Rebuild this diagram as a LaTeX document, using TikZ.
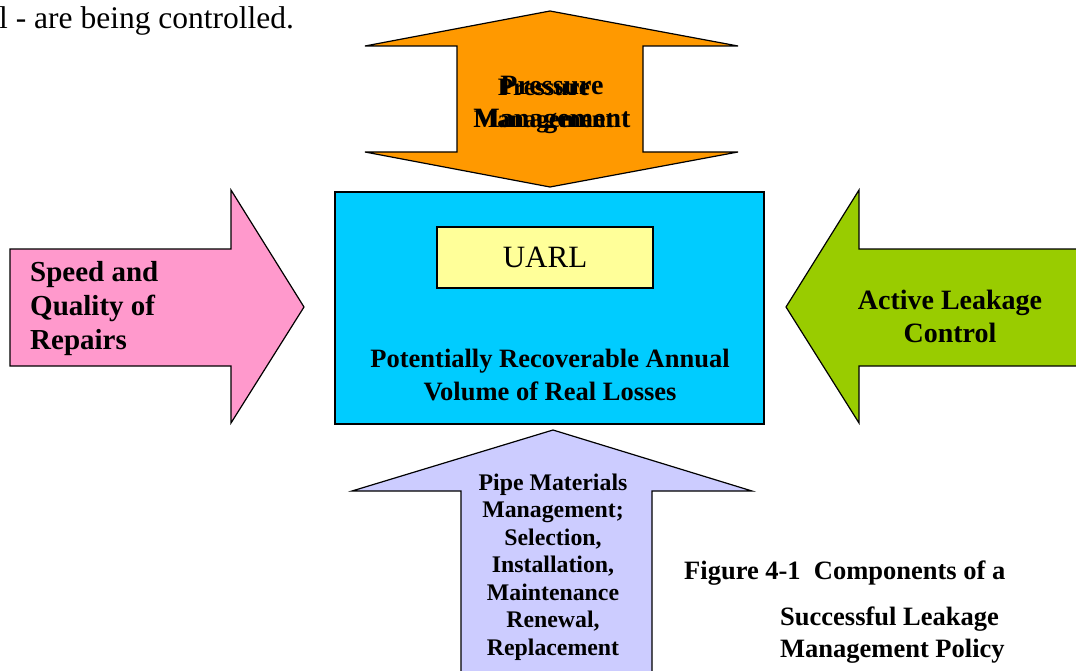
\documentclass[tikz,border=0pt]{standalone}
\usepackage{fontspec}
\setmainfont{Liberation Serif}
\definecolor{laranja}{HTML}{FF9900}
\definecolor{ciano}{HTML}{00CCFF}
\definecolor{amarelo}{HTML}{FFFF99}
\definecolor{rosa}{HTML}{FF99CC}
\definecolor{verde}{HTML}{99CC00}
\definecolor{lilas}{HTML}{CCCCFF}
\begin{document}
\begin{tikzpicture}[x=1pt, y=-1pt, %unidades em pontos, eixo y para baixo
	seta/.style={draw=black, line width=1.2pt, line join=miter},
	rotulo/.style={font=\bfseries\fontsize{28}{33}\selectfont, align=center, inner sep=0pt}]
	\clip (0,0) rectangle (1076,671); %Limites do desenho
	
	%Texto de cima
	\node[anchor=base west, inner sep=0pt, font=\fontsize{31.5}{36}\selectfont] (frase) at (-1,29) {l - are being controlled.};
	
	%Seta dupla de cima
	\filldraw[seta, fill=laranja] (550,11) -- (738,46) -- (643,46) -- (643,152) -- (738,152) -- (550,187)
		-- (365,152) -- (457,152) -- (457,46) -- (365,46) -- cycle;
	\node[rotulo, font=\bfseries\fontsize{25}{32}\selectfont] (pressaoa) at (544,106) {Pressure\\Management};
	\node[rotulo] (pressaob) at (552,105) {Pressure\\Management};
	
	%Caixa central
	\filldraw[seta, fill=ciano] (335,192) rectangle (764,424);
	\node[draw=black, line width=1.2pt, fill=amarelo, minimum width=216pt, minimum height=61pt, inner sep=0pt,
		font=\fontsize{31}{36}\selectfont] (uarl) at (545,257.5) {UARL};
	\node[rotulo, font=\bfseries\fontsize{26.5}{33}\selectfont] (perdas) at (550,375) {Potentially Recoverable Annual\\Volume of Real Losses};
	
	%Seta da esquerda
	\filldraw[seta, fill=rosa] (10,249) -- (231,249) -- (231,190) -- (304,307) -- (231,423) -- (231,366) -- (10,366) -- cycle;
	\node[rotulo, align=left, font=\bfseries\fontsize{29}{34}\selectfont, anchor=west] (reparos) at (30,309) {Speed and\\Quality of\\Repairs};
	
	%Seta da direita
	\filldraw[seta, fill=verde] (1090,249) -- (859,249) -- (859,190) -- (786,307) -- (859,423) -- (859,366) -- (1090,366) -- cycle;
	\node[rotulo] (controle) at (950,316.5) {Active Leakage\\Control};
	
	%Seta de baixo
	\filldraw[seta, fill=lilas] (553,430) -- (752,491) -- (652,491) -- (652,690) -- (461,690) -- (461,491) -- (352,491) -- cycle;
	\node[rotulo, font=\bfseries\fontsize{23.8}{27.5}\selectfont] (tubos) at (553,567)
		{Pipe Materials\\Management;\\Selection,\\Installation,\\Maintenance\\Renewal,\\Replacement};
	
	%Legenda
	\node[rotulo, anchor=base west] (legenda) at (684,579) {\fontsize{26.5}{32}\selectfont Figure 4-1\ \ Components of a};
	\node[rotulo, align=left, anchor=west, font=\bfseries\fontsize{26.5}{32}\selectfont] (politica) at (780,635) {Successful Leakage\\Management Policy};
\end{tikzpicture}
\end{document}
